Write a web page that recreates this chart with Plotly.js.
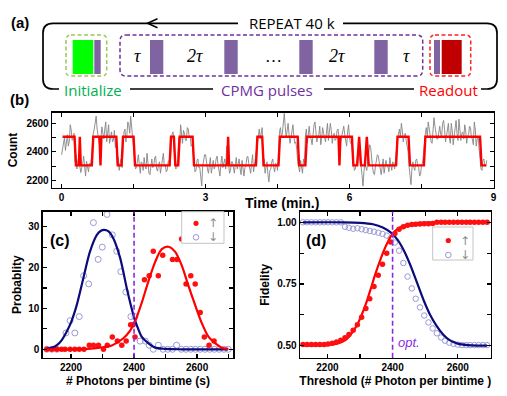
<!DOCTYPE html>
<html>
<head>
<meta charset="utf-8">
<script src="https://cdn.plot.ly/plotly-3.0.1.min.js"></script>
<style>html,body{margin:0;padding:0;background:#fff;} #chart{width:507px;height:396px;}</style>
</head>
<body>
<div id="chart"></div>
<script>
// ---------- Panel (b): photon count time trace ----------
const traceStart = 0.0;   // min
const traceStep = 0.02;   // min per bin
const countValues = [
  2380,2420, 2445,2500, 2410,2470, 2520,2440, 2470,2590, 2555,2480, 2490,2530,
  2330,2380, 2280,2340, 2360,2300, 2255,2290, 2310,2370, 2275,2230, 2335,2300, 2260,2320, 2300,2350,
  2470,2530, 2560,2600, 2650,2560, 2520,2480, 2420,2500, 2575,2530, 2490,2560, 2610,2470, 2530,2590, 2460,2510, 2540,2470, 2480,2550, 2430,2490,
  2310,2360, 2270,2320, 2350,2290,
  2480,2540, 2560,2470, 2520,2610, 2590,2530, 2650,2580, 2500,2460,
  2340,2280, 2290,2360, 2380,2310, 2250,2330, 2320,2270, 2360,2300, 2280,2390, 2310,2250, 2240,2320, 2350,2290, 2300,2360, 2370,2280, 2265,2310, 2330,2250, 2290,2340, 2390,2300, 2310,2260, 2270,2330, 2340,2300,
  2470,2520, 2540,2490,
  2330,2280, 2290,2350,
  2500,2450, 2590,2530, 2460,2550, 2530,2480, 2480,2570, 2560,2500, 2510,2440, 2450,2400,
  2320,2260, 2270,2340, 2350,2290, 2290,2230, 2160,2300, 2330,2380, 2380,2300, 2280,2250, 2310,2360, 2250,2310, 2340,2280, 2300,2350, 2370,2310, 2260,2230, 2320,2370, 2290,2330, 2350,2280, 2440,2380, 2300,2250, 2270,2330, 2330,2290, 2250,2310, 2360,2280, 2310,2350, 2280,2240, 2340,2300, 2230,2290, 2300,2360, 2370,2320, 2290,2250, 2320,2380, 2260,2310, 2350,2420,
  2480,2530, 2560,2490, 2520,2570,
  2300,2350, 2250,2300, 2330,2240, 2190,2270, 2280,2330, 2350,2290, 2260,2320, 2310,2270,
  2480,2540, 2570,2500, 2530,2600, 2670,2580, 2500,2550, 2600,2520, 2460,2500, 2550,2590, 2510,2460, 2470,2420,
  2330,2280, 2260,2340, 2300,2250, 2350,2310,
  2510,2560, 2460,2530, 2580,2500, 2490,2450, 2540,2590, 2610,2540, 2470,2510, 2520,2580, 2450,2500, 2570,2530, 2500,2470, 2540,2600, 2480,2530, 2600,2550, 2460,2510, 2530,2480, 2490,2550, 2560,2500, 2430,2480, 2510,2560, 2580,2520, 2470,2440, 2540,2590, 2500,2460, 2460,2380,
  2320,2270, 2280,2340, 2360,2410, 2440,2330, 2300,2240, 2160,2260, 2330,2290, 2270,2340, 2400,2450, 2430,2330, 2290,2250, 2240,2300, 2330,2380, 2370,2310, 2280,2240, 2310,2350, 2250,2290, 2340,2300, 2300,2260, 2360,2310, 2270,2330, 2320,2280, 2380,2420,
  2490,2540, 2560,2500, 2600,2550, 2470,2520, 2530,2480, 2450,2400,
  2300,2250, 2170,2280, 2330,2290, 2270,2340, 2350,2300, 2290,2230, 2240,2310, 2320,2380,
  2480,2530, 2570,2500, 2610,2560, 2520,2470, 2460,2550, 2640,2580, 2540,2490, 2490,2560, 2580,2520, 2510,2600, 2620,2560, 2470,2510, 2550,2600, 2500,2460, 2600,2550, 2450,2510, 2560,2620, 2530,2480, 2630,2570, 2480,2530, 2540,2490, 2590,2550, 2460,2510, 2520,2580, 2570,2500, 2490,2450, 2610,2560, 2440,2490, 2510,2420,
  2330,2280, 2270,2340, 2350,2300, 2300,2340
];
const stepTimes = [0.02,0.27,0.30,0.36,0.38,0.40,0.63,0.66,0.79,0.81,0.83,1.14,1.17,1.25,1.28,1.50,1.53,
  2.25,2.28,2.34,2.37,2.43,2.46,2.73,2.76,3.45,3.47,3.49,4.05,4.08,4.18,4.21,4.52,4.55,4.92,4.95,
  5.08,5.11,5.77,5.79,5.81,6.05,6.08,6.16,6.20,6.24,6.32,6.36,6.40,6.97,7.00,7.23,7.26,7.55,7.58,8.72,8.75,8.85];
const stepCounts = [2506,2506,2305,2305,2506,2305,2305,2506,2506,2305,2506,2506,2305,2305,2506,2506,2305,
  2305,2506,2506,2305,2305,2506,2506,2305,2305,2506,2305,2305,2506,2506,2305,2305,2506,2506,2305,
  2305,2506,2506,2305,2506,2506,2305,2305,2506,2305,2305,2506,2305,2305,2506,2506,2305,2305,2506,2506,2305,2305];
const timeTicks = [0, 3, 6, 9];

// ---------- Panel (c): histograms ----------
const histDownX = [2123,2139,2155,2184,2197,2212,2226,2240,2256,2271,2286,2299,2314,2331,2345,2358,2374,2390,2403,
  2419,2436,2448,2461,2477,2492,2507,2522,2535,2550,2565,2580,2595,2610,2625,2640,2655,2670,2685,2699];
const histDownY = [0,0,0,4,7,4,8,18,16,31,22,25,33,28,24,19,14,8,8,
  2,2,1,0,1,0,0,0,1,0,0,0,0,0,0,0,0,0,0,0];
const histUpX = [2123,2139,2155,2170,2181,2197,2212,2226,2241,2258,2271,2287,2303,2315,2331,2347,2361,2375,2389,2397,
  2403,2433,2448,2461,2477,2491,2522,2536,2551,2565,2580,2594,2610,2623,2638,2654];
const histUpY = [0,0,0,0,0,0,0,0,0,1,1,1,0,1,3,2,1,2,6,6,
  3,17,18,24,18,23,22,22,27,16,18,16,9,3,1,2];
const fitDownX = [2123,2140,2155,2170,2186,2200,2218,2239,2260,2282,2295,2305,2318,2334,2356,2377,2398,2410,2424,2445,2467,2498,2550,2620,2699];
const fitDownY = [0.1,0.4,1.0,2.2,4.3,6.6,10.8,17.4,23.9,28.0,29.0,29.2,28.9,27.2,22.3,14.9,8.4,5.6,3.1,1.5,0.4,0.1,0,0,0];
const fitUpX = [2123,2200,2250,2280,2300,2331,2366,2387,2403,2424,2445,2467,2488,2509,2530,2551,2572,2594,2615,2636,2657,2678,2699];
const fitUpY = [0,0,0.1,0.3,0.5,1.0,2.7,4.5,6.8,11.3,16.5,21.4,24.5,25.1,23.9,20.6,15.7,10.8,6.4,3.1,1.5,0.4,0.1];

// ---------- Panel (d): fidelity vs threshold ----------
const thrX = [2125,2138,2151,2164,2177,2190,2202,2215,2228,2241,2254,2266,2279,2292,2305,2318,2330,2343,2356,2369,2382,2394,
  2407,2420,2433,2446,2459,2471,2484,2497,2510,2523,2536,2549,2561,2574,2587,2600,2613,2626,2638,2651,2664,2677,2690];
const fidUpY = [0.505,0.505,0.505,0.505,0.505,0.505,0.507,0.51,0.515,0.522,0.532,0.545,0.562,0.585,0.615,0.65,0.69,0.74,0.785,0.83,0.875,0.92,
  0.955,0.972,0.982,0.988,0.991,0.992,0.993,0.994,0.994,0.995,1,1,1,1,1,1,1,1,1,1,1,1,1];
const fidDownY = [1,1,1,1,1,1,1,1,1,1,0.982,0.978,0.974,0.976,0.972,0.968,0.965,0.962,0.958,0.953,0.946,0.935,
  0.918,0.885,0.835,0.78,0.732,0.69,0.655,0.622,0.594,0.57,0.55,0.533,0.52,0.512,0.507,0.504,0.502,0.502,0.502,0.502,0.502,0.502,0.502];
const fidFitUpX = [2125,2200,2230,2255,2280,2296,2317,2332,2347,2363,2378,2399,2420,2445,2480,2530,2690];
const fidFitUpY = [0.5,0.502,0.508,0.522,0.56,0.597,0.665,0.726,0.79,0.85,0.9,0.952,0.977,0.99,0.998,1.0,1.0];
const fidFitDownX = [2125,2250,2300,2340,2370,2395,2415,2435,2455,2475,2495,2515,2535,2555,2575,2600,2630,2660,2690];
const fidFitDownY = [1,1,0.998,0.992,0.979,0.958,0.93,0.885,0.825,0.755,0.685,0.625,0.58,0.545,0.522,0.508,0.502,0.5,0.5];
const thresholdOpt = 2400;

// ---------- helpers (pixel -> paper) ----------
const W = 507, H = 396;
const PX = x => x / W;
const PY = y => 1 - y / H;
const FONT = 'Liberation Sans, Arial, sans-serif';
function pathStr(cmds) {
  return cmds.map(c => c[0] + c.slice(1).map((v, i) => (i % 2 === 0 ? PX(v) : PY(v)).toFixed(5)).join(',')).join(' ');
}
function roundRect(x0, y0, x1, y1, r) {
  return pathStr([['M', x0 + r, y0], ['L', x1 - r, y0], ['Q', x1, y0, x1, y0 + r], ['L', x1, y1 - r],
    ['Q', x1, y1, x1 - r, y1], ['L', x0 + r, y1], ['Q', x0, y1, x0, y1 - r], ['L', x0, y0 + r],
    ['Q', x0, y0, x0 + r, y0]]) + ' Z';
}
function pathShape(d, color, width, dash) {
  return {type: 'path', xref: 'paper', yref: 'paper', path: d, line: {color, width, dash: dash || 'solid'}};
}
function rectShape(x0, y0, x1, y1, fill, lineColor) {
  return {type: 'rect', xref: 'paper', yref: 'paper', x0: PX(x0), x1: PX(x1), y0: PY(y1), y1: PY(y0),
    fillcolor: fill, line: {width: lineColor ? 1 : 0, color: lineColor || fill}};
}
function dotShape(x, y, r, fill, lineColor) {
  return {type: 'circle', xref: 'paper', yref: 'paper', xsizemode: 'pixel', ysizemode: 'pixel',
    xanchor: PX(x), yanchor: PY(y), x0: -r, x1: r, y0: -r, y1: r,
    fillcolor: fill, line: {width: lineColor ? 1 : 0, color: lineColor || fill}};
}
function label(text, x, y, font, extra) {
  return Object.assign({text, x: PX(x), y: PY(y), xref: 'paper', yref: 'paper', showarrow: false,
    xanchor: 'center', yanchor: 'middle', font}, extra || {});
}

const timeAxis = countValues.map((_, i) => +(traceStart + i * traceStep).toFixed(2));

const downMarker = {symbol: 'circle-open', size: 6, color: '#9a9ad8', line: {width: 1, color: '#9a9ad8'}};
const upMarker = {symbol: 'circle', size: 5.5, color: '#ff1010'};

const data = [
  {x: timeAxis, y: countValues, xaxis: 'x', yaxis: 'y', mode: 'lines', line: {color: '#858585', width: 0.9}, showlegend: false},
  {x: stepTimes, y: stepCounts, xaxis: 'x', yaxis: 'y', mode: 'lines', line: {color: '#ff0000', width: 2.4}, showlegend: false},

  {x: histDownX, y: histDownY, xaxis: 'x2', yaxis: 'y2', mode: 'markers', marker: downMarker, name: '↓', showlegend: false},
  {x: histUpX, y: histUpY, xaxis: 'x2', yaxis: 'y2', mode: 'markers', marker: upMarker, name: '↑', showlegend: false},
  {x: fitDownX, y: fitDownY, xaxis: 'x2', yaxis: 'y2', mode: 'lines', line: {color: '#0b0b7a', width: 2.2, shape: 'spline', smoothing: 0.8}, showlegend: false},
  {x: fitUpX, y: fitUpY, xaxis: 'x2', yaxis: 'y2', mode: 'lines', line: {color: '#ff0000', width: 2.2, shape: 'spline', smoothing: 0.8}, showlegend: false},

  {x: thrX, y: fidDownY, xaxis: 'x3', yaxis: 'y3', mode: 'markers', marker: Object.assign({}, downMarker, {size: 5.5}), name: '↓', showlegend: false},
  {x: fidFitDownX, y: fidFitDownY, xaxis: 'x3', yaxis: 'y3', mode: 'lines', line: {color: '#0b0b7a', width: 2.2, shape: 'spline', smoothing: 0.8}, showlegend: false},
  {x: fidFitUpX, y: fidFitUpY, xaxis: 'x3', yaxis: 'y3', mode: 'lines', line: {color: '#ff0000', width: 2.2, shape: 'spline', smoothing: 0.8}, showlegend: false},
  {x: thrX, y: fidUpY, xaxis: 'x3', yaxis: 'y3', mode: 'markers', marker: upMarker, name: '↑', showlegend: false}
];

function axisBase(extra) {
  return Object.assign({
    showline: true, linecolor: '#000', linewidth: 1.3, mirror: 'ticks',
    ticks: 'inside', ticklen: 4, tickwidth: 1.2, tickcolor: '#000',
    showgrid: false, zeroline: false, fixedrange: true,
    tickfont: {family: FONT, size: 10, color: '#000', weight: 'bold'}
  }, extra);
}
const minorT = d => ({dtick: d, ticks: 'inside', ticklen: 4, tickwidth: 1.2, tickcolor: '#000', showgrid: false});
const titleFont = {family: FONT, size: 12, color: '#000', weight: 'bold'};

const ySub = [PY(357.7), PY(211.7)];

const layout = {
  width: W, height: H, margin: {l: 0, r: 0, t: 0, b: 0}, autosize: false,
  paper_bgcolor: '#fff', plot_bgcolor: '#fff', showlegend: false,
  font: {family: FONT, color: '#000'},
  xaxis: axisBase({domain: [PX(52), PX(493.5)], range: [-0.2, 9.0], anchor: 'y',
    tickvals: timeTicks, minor: minorT(1.5)}),
  yaxis: axisBase({domain: [PY(187.5), PY(112.5)], range: [2150, 2676], anchor: 'x',
    tick0: 2200, dtick: 200, minor: minorT(100),
    title: {text: 'Count', font: titleFont, standoff: 6}}),
  xaxis2: axisBase({domain: [PX(42.7), PX(233.3)], range: [2110, 2715], anchor: 'y2',
    tick0: 2200, dtick: 200, minor: minorT(100),
    title: {text: '# Photons per bintime (s)', font: titleFont, standoff: 4}}),
  yaxis2: axisBase({domain: ySub, range: [-2.06, 33.67], anchor: 'x2',
    tick0: 0, dtick: 10, minor: minorT(5),
    title: {text: 'Probablity', font: titleFont, standoff: 4}}),
  xaxis3: axisBase({domain: [PX(300), PX(490.7)], range: [2116, 2701], anchor: 'y3',
    tick0: 2200, dtick: 200, minor: minorT(100),
    title: {text: 'Threshold (# Photon per bintime )', font: titleFont, standoff: 4}}),
  yaxis3: axisBase({domain: ySub, range: [0.451, 1.043], anchor: 'x3',
    tick0: 0.5, dtick: 0.25, tickformat: '.2f', minor: minorT(0.125),
    title: {text: 'Fidelity', font: titleFont, standoff: 5}}),
  shapes: [],
  annotations: []
};

// threshold lines
const dashLine = {color: '#8a2be2', width: 1.6, dash: '5px,3px'};
layout.shapes.push({type: 'line', xref: 'x2', yref: 'y2 domain', x0: thresholdOpt, x1: thresholdOpt, y0: 0, y1: 1, line: dashLine, layer: 'above'});
layout.shapes.push({type: 'line', xref: 'x3', yref: 'y3 domain', x0: thresholdOpt, x1: thresholdOpt, y0: 0, y1: 1, line: dashLine, layer: 'above'});

// ---------- Panel (a): pulse sequence diagram ----------
const frameW = 1.7;
layout.shapes.push(pathShape(pathStr([['M', 59, 89], ['L', 53, 89], ['Q', 43, 89, 43, 79], ['L', 43, 33], ['Q', 43, 23.3, 53, 23.3], ['L', 238, 23.3]]), '#000', frameW));
layout.shapes.push(pathShape(pathStr([['M', 343, 23.3], ['L', 487, 23.3], ['Q', 497, 23.3, 497, 33], ['L', 497, 79], ['Q', 497, 89, 487, 89], ['L', 481, 89]]), '#000', frameW));
layout.shapes.push(pathShape(pathStr([['M', 130, 89], ['L', 213, 89]]), '#000', frameW));
layout.shapes.push(pathShape(pathStr([['M', 324, 89], ['L', 414, 89]]), '#000', frameW));
layout.shapes.push(pathShape(pathStr([['M', 157.5, 18.8], ['L', 147.5, 23.3], ['L', 157.5, 27.8]]), '#000', 1.5));
// dashed boxes
layout.shapes.push(pathShape(roundRect(66, 35, 106.7, 76, 5), '#9bc85a', 1.5, '4px,2.5px'));
layout.shapes.push(pathShape(roundRect(120, 35, 422.7, 76, 6), '#7030a0', 1.5, '4px,2.5px'));
layout.shapes.push(pathShape(roundRect(430, 35, 470.7, 76, 5), '#ff2020', 1.5, '4px,2.5px'));
// pulses
const pulse = '#8064a2';
layout.shapes.push(rectShape(72.7, 40, 93.3, 74, '#00ff00'));
layout.shapes.push(rectShape(94.3, 40, 100.7, 74, pulse));
[[150, 163.3], [224.3, 237.7], [299.3, 312.7], [374.3, 387.7]].forEach(p => layout.shapes.push(rectShape(p[0], 40, p[1], 74, pulse)));
layout.shapes.push(rectShape(434, 40, 440, 74, pulse));
layout.shapes.push(rectShape(441.7, 40, 461.7, 74, '#c00000'));

const diagFont = (c) => ({family: 'Open Sans, Liberation Sans, sans-serif', size: 15, color: c});
const tauFont = {family: 'Liberation Serif, DejaVu Serif, serif', size: 18, color: '#000', style: 'italic'};
layout.annotations.push(
  label('(a)', 20, 22.5, {family: FONT, size: 15, color: '#000', weight: 'bold'}),
  label('REPEAT 40 k', 291.5, 23, diagFont('#000')),
  label('Initialize', 92.5, 90, diagFont('#00b050')),
  label('CPMG pulses', 266.5, 90, diagFont('#7030a0')),
  label('Readout', 448.5, 90, diagFont('#ff0000')),
  label('τ', 137, 56, tauFont),
  label('2τ', 195, 56, tauFont),
  label('…', 273, 57, {family: 'Liberation Serif, serif', size: 17, color: '#000'}),
  label('2τ', 337, 56, tauFont),
  label('τ', 406, 56, tauFont),
  label('(b)', 19.5, 99, {family: FONT, size: 15, color: '#000', weight: 'bold'}),
  label('Time (min.)', 281.7, 203.5, {family: FONT, size: 14, color: '#000', weight: 'bold'}),
  label('(c)', 60, 240, {family: FONT, size: 16, color: '#000', weight: 'bold'}),
  label('(d)', 316, 240.5, {family: FONT, size: 16, color: '#000', weight: 'bold'}),
  label('opt.', 409, 342, {family: FONT, size: 13, color: '#8a2be2', style: 'italic'})
);

// ---------- manual legends ----------
const arrowFont = {family: 'DejaVu Sans, sans-serif', size: 12, color: '#8c8c8c'};
// (c)
layout.shapes.push(rectShape(181.7, 211.7, 224, 243.3, '#ffffff', '#c4c4c4'));
layout.shapes.push(dotShape(196, 223.3, 2.6, '#ff1010'));
layout.shapes.push(dotShape(196, 237.3, 2.8, 'rgba(0,0,0,0)', '#9a9ad8'));
layout.annotations.push(label('↑', 213, 223.3, arrowFont), label('↓', 213, 237.3, arrowFont));
// (d)
layout.shapes.push(rectShape(432.7, 227, 473, 260, '#ffffff', '#c4c4c4'));
layout.shapes.push(dotShape(448.3, 240.5, 2.6, '#ff1010'));
layout.shapes.push(dotShape(448.3, 255, 2.8, 'rgba(0,0,0,0)', '#9a9ad8'));
layout.annotations.push(label('↑', 465, 240.5, arrowFont), label('↓', 465, 255, arrowFont));

Plotly.newPlot('chart', data, layout, {displayModeBar: false, staticPlot: true});
</script>
</body>
</html>
